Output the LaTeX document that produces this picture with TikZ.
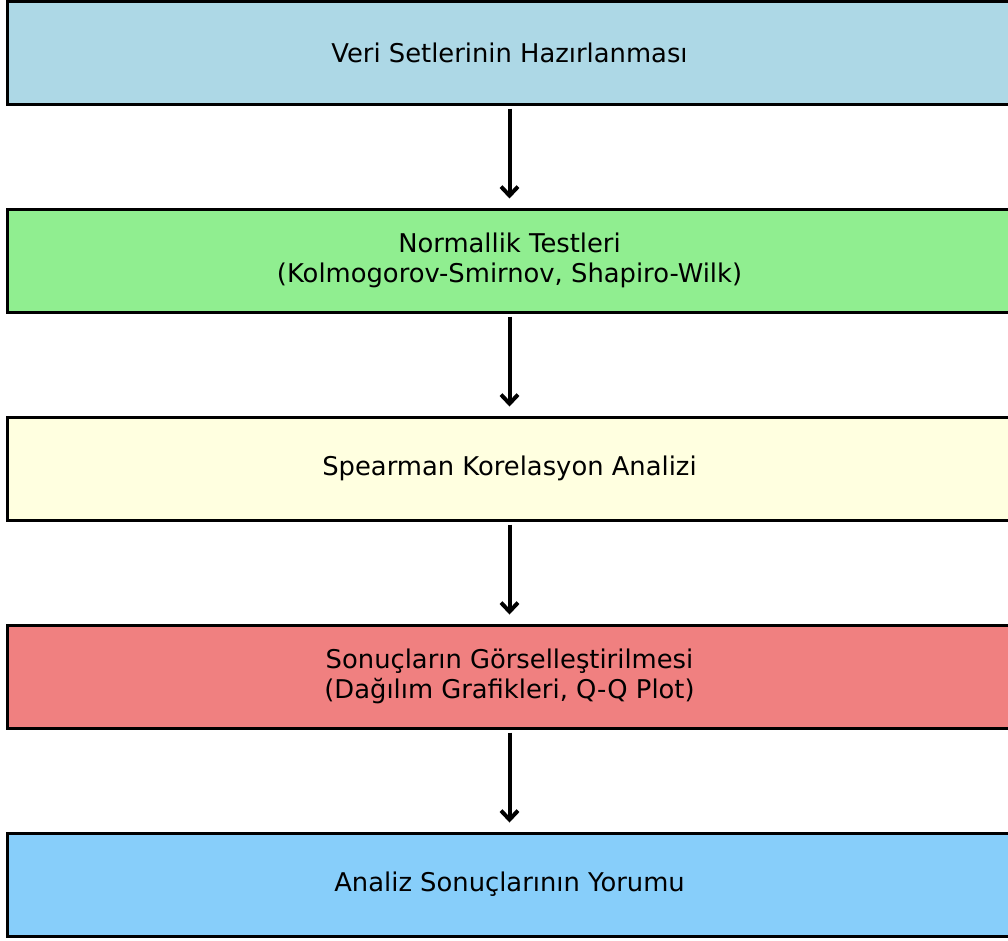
\documentclass[tikz,border=0pt]{standalone}
\usepackage{fontspec}
\setmainfont{DejaVu Sans}
\usetikzlibrary{arrows.meta}
\definecolor{cA}{HTML}{ADD8E6}
\definecolor{cB}{HTML}{90EE90}
\definecolor{cC}{HTML}{FFFFE0}
\definecolor{cD}{HTML}{F08080}
\definecolor{cE}{HTML}{87CEFA}
\tikzset{
  flowbox/.style={draw=black, line width=3pt, minimum width=1005pt, minimum height=103pt,
    inner sep=0pt, align=center, font=\fontsize{25.8}{30}\selectfont, text=black},
  flowarrow/.style={line width=4pt, -{Straight Barb[length=9pt,width=17pt,line width=4pt]},
    shorten <=3pt, shorten >=9pt}
}
\begin{document}
\begin{tikzpicture}[x=1pt,y=1pt]
\useasboundingbox (0,0) rectangle (1008,-940);
\clip (0,0) rectangle (1008,-940);
\node[flowbox, fill=cA] (a) at (509.5,-52.5) {Veri Setlerinin Hazırlanması};
\node[flowbox, fill=cB] (b) at (509.5,-260.5) {Normallik Testleri\\(Kolmogorov-Smirnov, Shapiro-Wilk)};
\node[flowbox, fill=cC] (c) at (509.5,-468.5) {Spearman Korelasyon Analizi};
\node[flowbox, fill=cD] (d) at (509.5,-676.5) {Sonuçların Görselleştirilmesi\\(Dağılım Grafikleri, Q-Q Plot)};
\node[flowbox, fill=cE] (e) at (509.5,-884.5) {Analiz Sonuçlarının Yorumu};
\draw[flowarrow] (a) -- (b);
\draw[flowarrow] (b) -- (c);
\draw[flowarrow] (c) -- (d);
\draw[flowarrow] (d) -- (e);
\end{tikzpicture}
\end{document}
